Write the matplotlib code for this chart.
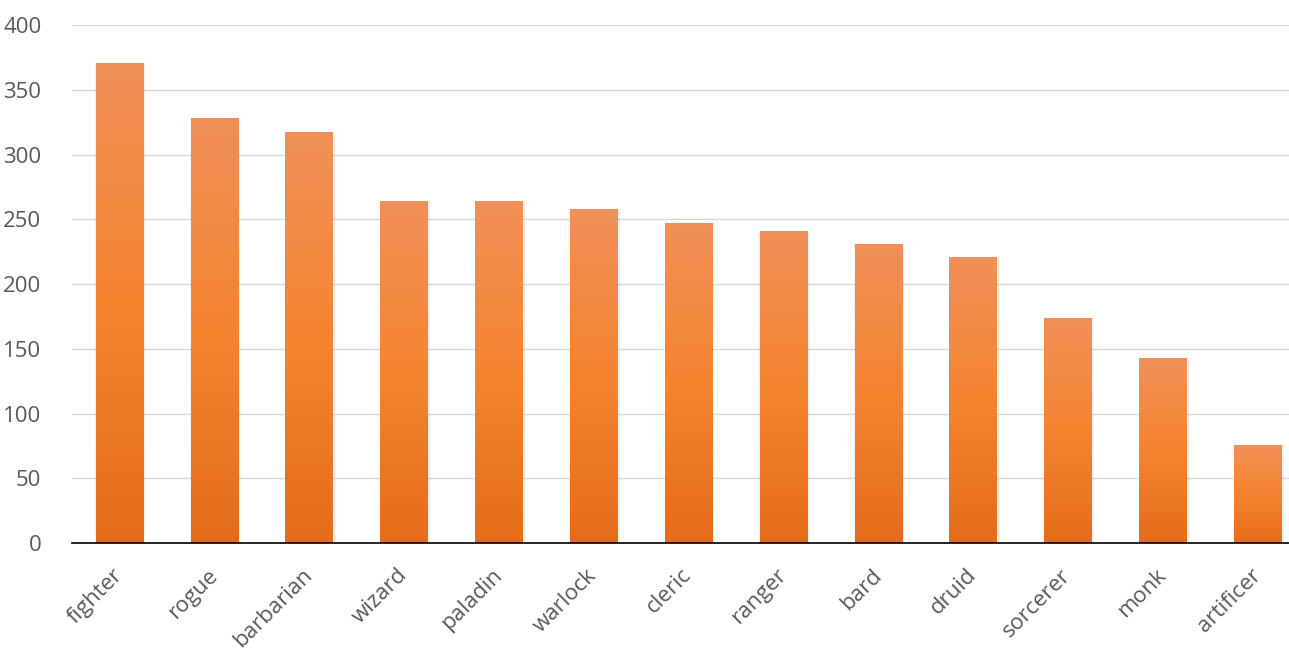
import matplotlib.pyplot as plt
import numpy as np
from matplotlib.colors import LinearSegmentedColormap

classes = ["fighter", "rogue", "barbarian", "wizard", "paladin", "warlock", "cleric",
           "ranger", "bard", "druid", "sorcerer", "monk", "artificer"]
counts = [371, 328, 317, 264, 264, 258, 247, 241, 231, 221, 174, 143, 76]
yticks = [0, 50, 100, 150, 200, 250, 300, 350, 400]

plt.rcParams['font.family'] = ['Open Sans', 'DejaVu Sans']

fig = plt.figure(figsize=(12.89, 6.51), dpi=100)
ax = fig.add_axes([72 / 1289, 108 / 651, 1 - 72 / 1289, (543 - 25) / 651])

# gradient from bottom (dark) to top (light)
cmap = LinearSegmentedColormap.from_list("bar", ["#E46C1A", "#F58430", "#F09059"])
grad = np.linspace(0, 1, 256).reshape(-1, 1)

x = np.arange(len(classes))
bars = ax.bar(x, counts, width=0.5, color="none", zorder=3)
for b in bars:
    x0, w, h = b.get_x(), b.get_width(), b.get_height()
    # soft shadow
    ax.bar(x0 + w / 2 + 0.01, h, width=w * 1.05, color="#000000", alpha=0.06, zorder=2)
    im = ax.imshow(grad, cmap=cmap, origin="lower", aspect="auto",
                   extent=[x0, x0 + w, 0, h], zorder=3)
    im.set_clip_path(b)

ax.set_xlim(-0.5, 12.33)
ax.set_ylim(0, 400)
ax.set_yticks(yticks)
ax.yaxis.grid(True, color="#D9D9D9", linewidth=1)
ax.set_axisbelow(True)
for s in ["top", "right", "left"]:
    ax.spines[s].set_visible(False)
ax.spines["bottom"].set_color("#000000")
ax.spines["bottom"].set_linewidth(1.2)
ax.spines["bottom"].set_zorder(4)
ax.tick_params(axis="y", length=0, labelsize=16, labelcolor="#595959", pad=22)
ax.set_xticks(x)
ax.set_xticklabels(classes, rotation=45, ha="right", va="center", rotation_mode="anchor")
ax.tick_params(axis="x", length=0, labelsize=16, labelcolor="#595959", pad=21)

fig.savefig("out.png", dpi=100)
